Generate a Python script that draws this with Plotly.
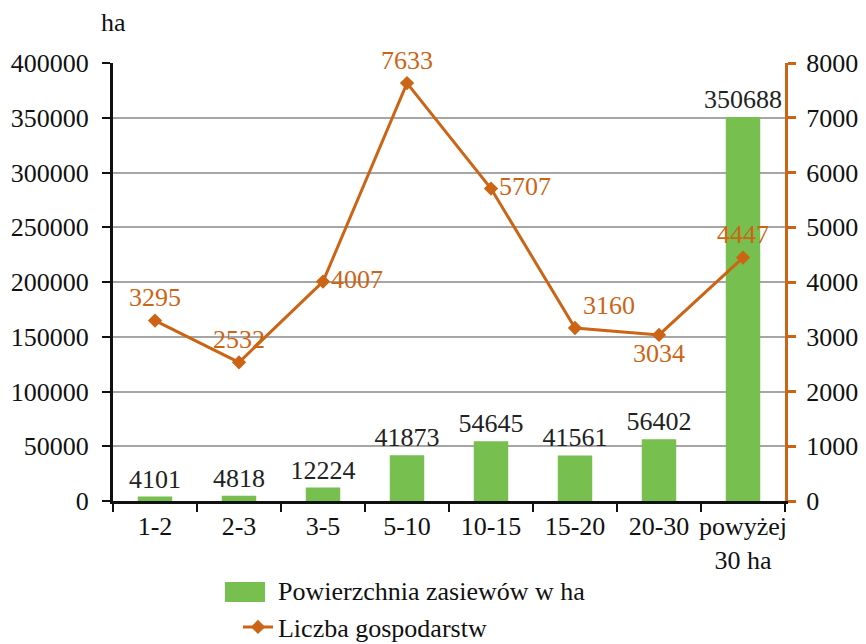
import plotly.graph_objects as go

categories = ["1-2", "2-3", "3-5", "5-10", "10-15", "15-20", "20-30", "powyżej<br>30 ha"]
area_ha = [4101, 4818, 12224, 41873, 54645, 41561, 56402, 350688]
farms = [3295, 2532, 4007, 7633, 5707, 3160, 3034, 4447]
farm_label_pos = ["top center", "top center", "middle right", "top center",
                  "middle right", "top right", "bottom center", "top center"]

FONT = "Liberation Serif, Times New Roman, serif"
GREEN = "#77BF4E"
ORANGE = "#CC6416"
TXT = "#111111"

def f(size=26, color=TXT):
    return dict(family=FONT, size=size, color=color)

fig = go.Figure()
fig.add_trace(go.Bar(
    x=categories, y=area_ha, name="Powierzchnia zasiewów w ha",
    marker=dict(color=GREEN, line=dict(color=GREEN, width=0)), width=0.41,
    text=[str(v) for v in area_ha], textposition="outside",
    textfont=f(26, "#222222"), constraintext="none",
    cliponaxis=False, yaxis="y",
))
fig.add_trace(go.Scatter(
    x=categories, y=farms, name="Liczba gospodarstw",
    mode="lines+markers+text", yaxis="y2",
    line=dict(color=ORANGE, width=3),
    marker=dict(symbol="diamond", size=11, color=ORANGE),
    text=[str(v) for v in farms], textposition=farm_label_pos,
    textfont=f(26, ORANGE),
    cliponaxis=False,
))

fig.update_layout(
    width=866, height=644,
    margin=dict(l=113, r=81, t=63, b=143, autoexpand=False),
    plot_bgcolor="white", paper_bgcolor="white",
    font=f(26),
    showlegend=True,
    legend=dict(x=0.186, y=-0.15, xanchor="left", yanchor="top",
                font=f(26), tracegroupgap=4,
                bgcolor="rgba(0,0,0,0)"),
    xaxis=dict(showline=True, linecolor=TXT, linewidth=3, automargin=False,
               ticks="outside", tickson="boundaries", ticklen=8, tickwidth=2,
               tickcolor=TXT, showgrid=False, tickfont=f(26), tickangle=0),
    yaxis=dict(range=[0, 400000], dtick=50000, tickformat="d", showline=True,
               linecolor=TXT, automargin=False,
               linewidth=3, ticks="outside", ticklen=8, tickwidth=2, tickcolor=TXT,
               showgrid=True, gridcolor="#A6A6A6", gridwidth=2, zeroline=False,
               tickfont=f(26), ticklabelstandoff=8),
    yaxis2=dict(range=[0, 8000], dtick=1000, tickformat="d", overlaying="y", side="right",
                showline=True, linecolor=ORANGE, linewidth=3, ticks="outside",
                automargin=False,
                ticklen=8, tickwidth=3, tickcolor=ORANGE, showgrid=False,
                zeroline=False, tickfont=f(26), ticklabelstandoff=5),
    bargap=0.5,
)
# larger legend swatch for the bar series, as in the reference
fig.add_shape(type="rect", xref="paper", yref="paper",
              x0=0.1667, x1=0.2262, y0=-0.2306, y1=-0.1850,
              fillcolor=GREEN, line_width=0, layer="above")
fig.add_annotation(text="ha", xref="paper", yref="paper", x=0, y=1,
                   xshift=0, yshift=24, showarrow=False,
                   font=f(26), xanchor="center", yanchor="bottom")

fig.write_html("out.html", config={"displayModeBar": False},
               post_script="document.body.style.margin='0';")
